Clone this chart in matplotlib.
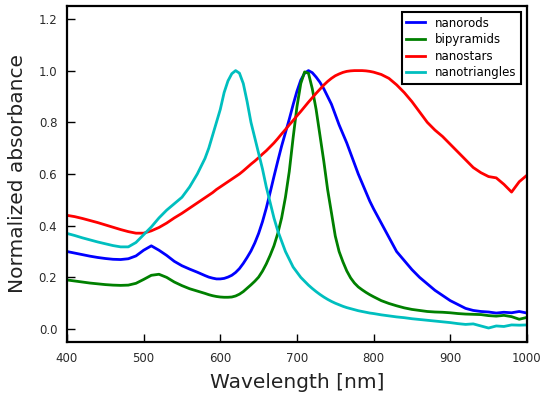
import numpy as np
import matplotlib
matplotlib.use("Agg")
import matplotlib.pyplot as plt

# ---------------- data ----------------
wavelength = [400, 410, 420, 430, 440, 450, 460, 470, 480, 490, 500, 510, 520, 530, 540, 550, 560, 570,
              580, 585, 590, 595, 600, 605, 610, 615, 620, 625, 630, 635, 640, 645, 650, 655, 660, 665,
              670, 675, 680, 685, 690, 695, 700, 705, 710, 715, 720, 725, 730, 735, 740, 745, 750, 755,
              760, 765, 770, 775, 780, 785, 790, 795,
              800, 810, 820, 830, 840, 850, 860, 870, 880, 890, 900, 910, 920, 930, 940, 950, 960, 970,
              980, 990, 1000]

nanorods = [0.300, 0.294, 0.288, 0.282, 0.277, 0.273, 0.270, 0.269, 0.272, 0.283, 0.305, 0.322, 0.305, 0.285,
            0.262, 0.245, 0.232, 0.220,
            0.207, 0.201, 0.197, 0.194, 0.194, 0.196, 0.201, 0.208, 0.219, 0.234, 0.254, 0.277, 0.302, 0.333,
            0.370, 0.415, 0.468, 0.528, 0.590, 0.650, 0.708, 0.760, 0.812, 0.868, 0.920, 0.963, 0.990, 1.000,
            0.992, 0.975, 0.955, 0.930, 0.900, 0.870, 0.830, 0.790, 0.755, 0.720, 0.680, 0.640, 0.600, 0.565,
            0.530, 0.495,
            0.465, 0.410, 0.355, 0.300, 0.265, 0.230, 0.200, 0.175, 0.150, 0.130, 0.110, 0.095, 0.080, 0.072,
            0.068, 0.066, 0.062, 0.065, 0.063, 0.068, 0.062]

bipyramids = [0.190, 0.186, 0.182, 0.178, 0.175, 0.172, 0.170, 0.169, 0.170, 0.177, 0.192, 0.208, 0.212, 0.200,
              0.182, 0.168, 0.156, 0.147,
              0.138, 0.133, 0.129, 0.126, 0.124, 0.123, 0.123, 0.124, 0.128, 0.135, 0.145, 0.158, 0.171, 0.185,
              0.201, 0.224, 0.252, 0.285, 0.322, 0.370, 0.430, 0.510, 0.610, 0.740, 0.860, 0.950, 0.995, 0.990,
              0.930, 0.850, 0.750, 0.650, 0.540, 0.450, 0.360, 0.300, 0.260, 0.225, 0.198, 0.178, 0.163, 0.152,
              0.142, 0.133,
              0.125, 0.110, 0.099, 0.090, 0.082, 0.076, 0.072, 0.068, 0.066, 0.065, 0.063, 0.060, 0.058, 0.057,
              0.056, 0.052, 0.050, 0.053, 0.048, 0.038, 0.045]

nanostars = [0.440, 0.435, 0.428, 0.420, 0.412, 0.403, 0.394, 0.385, 0.377, 0.371, 0.371, 0.380, 0.393, 0.410,
             0.430, 0.448, 0.468, 0.488,
             0.508, 0.518, 0.528, 0.540, 0.550, 0.560, 0.570, 0.580, 0.590, 0.600, 0.612, 0.625, 0.638, 0.650,
             0.663, 0.677, 0.690, 0.705, 0.720, 0.737, 0.755, 0.772, 0.790, 0.807, 0.825, 0.842, 0.860, 0.878,
             0.895, 0.912, 0.928, 0.944, 0.958, 0.970, 0.980, 0.987, 0.993, 0.997, 0.999, 1.000, 1.000, 1.000,
             0.999, 0.997,
             0.994, 0.985, 0.970, 0.945, 0.915, 0.880, 0.840, 0.800, 0.770, 0.745, 0.715, 0.685, 0.655, 0.625,
             0.605, 0.590, 0.585, 0.560, 0.530, 0.570, 0.595]

nanotriangles = [0.370, 0.362, 0.353, 0.345, 0.337, 0.330, 0.323, 0.318, 0.318, 0.335, 0.365, 0.395, 0.430, 0.460,
                 0.485, 0.510, 0.550, 0.600,
                 0.660, 0.700, 0.750, 0.800, 0.850, 0.915, 0.960, 0.988, 1.000, 0.990, 0.950, 0.880, 0.800, 0.740,
                 0.680, 0.620, 0.550, 0.490, 0.430, 0.380, 0.340, 0.300, 0.270, 0.240, 0.220, 0.200, 0.185, 0.170,
                 0.157, 0.145, 0.134, 0.124, 0.115, 0.107, 0.100, 0.094, 0.088, 0.083, 0.079, 0.075, 0.071, 0.068,
                 0.065, 0.062,
                 0.060, 0.055, 0.051, 0.047, 0.044, 0.040, 0.037, 0.034, 0.031, 0.028, 0.025, 0.021, 0.018, 0.020,
                 0.012, 0.004, 0.012, 0.010, 0.016, 0.015, 0.016]

series = [("nanorods", nanorods, "b"),
          ("bipyramids", bipyramids, "g"),
          ("nanostars", nanostars, "r"),
          ("nanotriangles", nanotriangles, "c")]

# ---------------- plot ----------------
fig = plt.figure(figsize=(5.5, 3.99), dpi=100)
ax = fig.add_axes([0.1218, 0.1429, 0.8362, 0.8421])

for name, vals, col in series:
    ax.plot(wavelength, vals, color=col, lw=2, label=name)

ax.set_xlim(400, 1000)
ax.set_ylim(-0.05, 1.25)
ax.set_xticks([400, 500, 600, 700, 800, 900, 1000])
ax.set_yticks([0.0, 0.2, 0.4, 0.6, 0.8, 1.0, 1.2])
ax.yaxis.set_major_formatter(matplotlib.ticker.FormatStrFormatter("%.1f"))

for s in ax.spines.values():
    s.set_linewidth(1.6)
ax.tick_params(direction="in", length=6, width=1, labelsize=8.5, labelcolor="#2a2a2a")
ax.tick_params(axis="y", pad=7)
ax.tick_params(axis="x", pad=7)

ax.set_xlabel("Wavelength [nm]", fontsize=14.5, color="#222222", labelpad=6)
ax.set_ylabel("Normalized absorbance", fontsize=14.5, color="#222222", labelpad=8)

leg = ax.legend(loc="upper right", fontsize=8.5, fancybox=False, framealpha=1,
                handlelength=1.6, labelspacing=0.3, borderaxespad=0.5)
leg.get_frame().set_edgecolor("black")
leg.get_frame().set_linewidth(1.5)

fig.savefig("out.png", dpi=100)
